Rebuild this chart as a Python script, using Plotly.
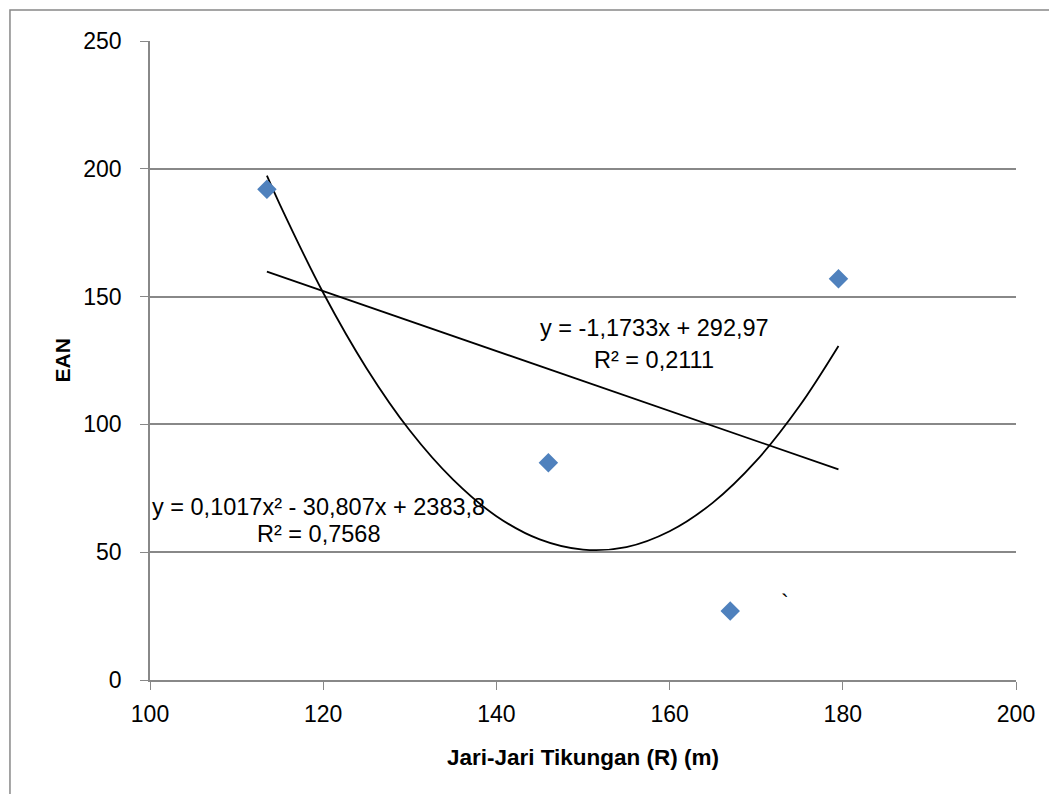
import plotly.graph_objects as go

# Data points
radius = [113.5, 146, 167, 179.5]
ean = [192, 85, 27, 157]

# Linear trendline endpoints
lin_x = [113.5, 179.5]
lin_y = [159.8, 82.4]

# Polynomial trendline sampled from chart curve
poly_x = [113.5, 115, 120, 125, 130, 135, 140, 145, 150, 155, 160, 165, 170, 175, 179.5]
poly_y = [197.3, 186.0, 151.5, 122.0, 97.6, 78.4, 64.1, 55.0, 51.0, 52.0, 58.2, 69.4, 85.7, 107.2, 130.7]

x_ticks = [100, 120, 140, 160, 180, 200]
y_ticks = [0, 50, 100, 150, 200, 250]

FONT = "Liberation Sans"
GRAY = "#888888"

fig = go.Figure()
fig.add_trace(go.Scatter(x=poly_x, y=poly_y, mode="lines", line=dict(color="black", width=1.8, shape="spline"),
                         hoverinfo="skip", showlegend=False))
fig.add_trace(go.Scatter(x=lin_x, y=lin_y, mode="lines", line=dict(color="black", width=1.8),
                         hoverinfo="skip", showlegend=False))
fig.add_trace(go.Scatter(x=radius, y=ean, mode="markers",
                         marker=dict(symbol="diamond", size=15, color="#4F81BD", line=dict(width=0)),
                         showlegend=False))

ann_font = dict(family=FONT, size=23.5, color="black")
fig.add_annotation(x=158.2, y=137.7, text="y = -1,1733x + 292,97", showarrow=False, font=ann_font)
fig.add_annotation(x=158.2, y=125.2, text="R² = 0,2111", showarrow=False, font=ann_font)
fig.add_annotation(x=119.4, y=67.7, text="y = 0,1017x² - 30,807x + 2383,8", showarrow=False, font=ann_font)
fig.add_annotation(x=119.4, y=57.1, text="R² = 0,7568", showarrow=False, font=ann_font)
fig.add_annotation(x=173.3, y=30, text="`", showarrow=False, font=ann_font)

# y-axis title placed as annotation
fig.add_annotation(xref="paper", yref="paper", x=-0.1016, y=0.5, text="<b>EAN</b>", textangle=-90,
                   showarrow=False, font=dict(family=FONT, size=21, color="black"),
                   xanchor="center", yanchor="middle")

# outer chart border
fig.add_shape(type="rect", xref="paper", yref="paper", x0=-0.1617, y0=-0.19, x1=1.06, y1=1.0485,
              line=dict(color=GRAY, width=1.5), layer="below")

fig.update_layout(
    width=1049, height=786,
    margin=dict(l=142, r=41, t=33, b=114),
    paper_bgcolor="white", plot_bgcolor="white",
    font=dict(family=FONT, size=23, color="black"),
    xaxis=dict(range=[100, 200], tickvals=x_ticks, ticks="outside", ticklen=8, tickcolor=GRAY,
               showline=True, linecolor=GRAY, linewidth=1.5, showgrid=False, zeroline=False,
               ticklabelstandoff=5,
               title=dict(text="<b>Jari-Jari Tikungan (R) (m)</b>", font=dict(family=FONT, size=22.5), standoff=23),
               tickfont=dict(family=FONT, size=23)),
    yaxis=dict(range=[0, 250], tickvals=y_ticks, ticks="outside", ticklen=8, tickcolor=GRAY,
               showline=True, linecolor=GRAY, linewidth=1.5, showgrid=True, gridcolor=GRAY, gridwidth=1.5,
               zeroline=False, ticklabelstandoff=14,
               tickfont=dict(family=FONT, size=23)),
)

fig.write_html("out.html")
